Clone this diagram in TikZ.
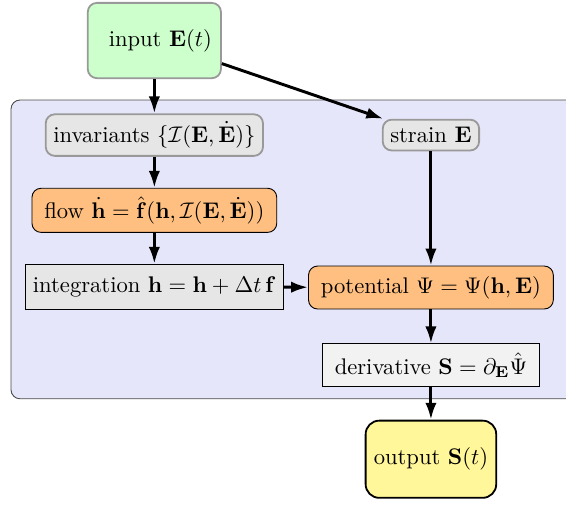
\documentclass[tikz,border=0pt]{standalone}
\usepackage{amsmath}
\usepackage{tikz}
\usetikzlibrary{positioning}
\usetikzlibrary{shapes,backgrounds,fit,arrows.meta}

\definecolor{inputgreen}{HTML}{CCFFCC}
\definecolor{panelblue}{HTML}{E6E6FA}
\definecolor{boxgray}{HTML}{E6E6E6}
\definecolor{flowor}{HTML}{FFBF80}
\definecolor{derivgray}{HTML}{F2F2F2}
\definecolor{outyellow}{HTML}{FFF799}

\tikzset{
  softbox/.style={draw=gray!80,thick,rounded corners=4pt,fill=boxgray},
  learnbox/.style={draw=black,rounded corners=4pt,fill=flowor,inner xsep=5.5pt},
  plainbox/.style={draw=black,fill=boxgray,minimum height=20pt},
  flowarrow/.style={-{Latex[length=7.5pt,width=5pt]},line width=1.3pt}
}

\begin{document}
\begin{tikzpicture}
\useasboundingbox (0,0) rectangle (8.80,-7.84);
\clip (0,0) rectangle (8.80,-7.84);
% panel behind the model
\draw[draw=black!70,fill=panelblue,rounded corners=4pt] (0.171,-1.555) rectangle (9.3,-6.20);

\path
(2.40,-0.63) node[softbox,fill=inputgreen,minimum width=2.07cm,minimum height=1.17cm,
  text width=50.9pt,align=right,inner sep=4pt](input){input $\mathbf{E}(t)$}
(2.40,-2.10) node[softbox](inv){invariants $\{\mathcal{I}(\mathbf{E},\dot{\mathbf{E}})\}$}
(6.70,-2.10) node[softbox](strain){strain $\mathbf{E}$}
(2.40,-3.27) node[learnbox,minimum height=19.5pt](flow){flow $\dot{\mathbf{h}}=\hat{\mathbf{f}}(\mathbf{h},\mathcal{I}(\mathbf{E},\dot{\mathbf{E}}))$}
(2.40,-4.46) node[plainbox](integ){integration $\mathbf{h}=\mathbf{h}+\Delta t\,\mathbf{f}$}
(6.70,-4.47) node[learnbox,minimum height=19pt](pot){potential $\Psi=\Psi(\mathbf{h},\mathbf{E})$}
(6.70,-5.68) node[plainbox,fill=derivgray,minimum height=19pt,inner xsep=5.5pt](deriv){derivative $\mathbf{S}=\partial_{\mathbf{E}}\hat{\Psi}$}
(6.70,-7.14) node[draw=black,thick,rounded corners=6pt,fill=outyellow,
  minimum height=1.2cm,inner sep=3.6pt](output){output $\mathbf{S}(t)$};

\draw[flowarrow] (input) -- (inv);
\draw[flowarrow] (input) -- (strain);
\draw[flowarrow] (inv) -- (flow);
\draw[flowarrow] (flow) -- (integ);
\draw[flowarrow] (integ) -- (pot);
\draw[flowarrow] (strain) -- (pot);
\draw[flowarrow] (pot) -- (deriv);
\draw[flowarrow] (deriv) -- (output);
\end{tikzpicture}
\end{document}
